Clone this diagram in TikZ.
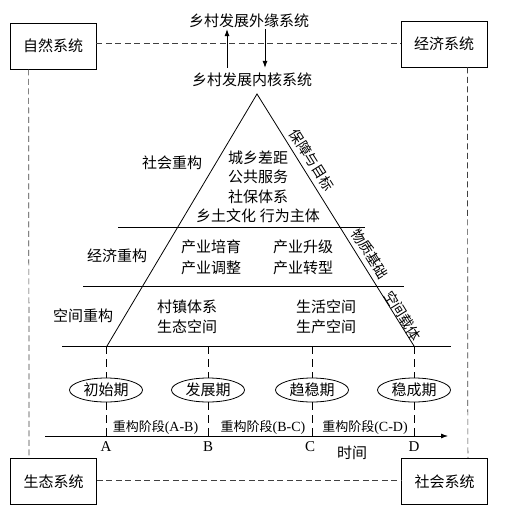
\documentclass[tikz,border=0pt]{standalone}
\usepackage{fontspec}
\setmainfont{Liberation Serif}
\newfontfamily\cjk{Noto Sans CJK SC}
\usetikzlibrary{arrows.meta,shapes.geometric,calc}
\tikzset{
 sysbox/.style={draw, line width=0.8pt, minimum width=86pt, minimum height=46pt, inner sep=0pt, font=\cjk\fontsize{15}{18}\selectfont},
 link/.style={draw=black!75, line width=0.7pt, dash pattern=on 6pt off 3.5pt},
 lbl/.style={font=\cjk\fontsize{15}{18}\selectfont, inner sep=1pt},
 multi/.style={font=\cjk\fontsize{15}{19.5}\selectfont, inner sep=1pt, align=center},
 multiw/.style={font=\cjk\fontsize{15}{21}\selectfont, inner sep=1pt, align=center},
 tline/.style={line width=0.8pt},
 ell/.style={draw, ellipse, line width=0.8pt, minimum width=73pt, minimum height=24pt, inner sep=0pt, font=\cjk\fontsize{15}{18}\selectfont},
 vd/.style={line width=0.7pt, dash pattern=on 8pt off 5pt},
 arr/.style={line width=0.8pt, -{Latex[length=7pt,width=5pt]}},
 letter/.style={font=\fontsize{15}{18}\selectfont, inner sep=0pt},
 stage/.style={font=\fontsize{14}{16}\selectfont, inner sep=0pt},
 side/.style={font=\cjk\fontsize{14}{16}\selectfont, inner sep=0pt, rotate=-58},
}
\newcommand{\stg}[1]{{\cjk\fontsize{13}{16}\selectfont 重构阶段}(#1)}
\begin{document}
\begin{tikzpicture}[x=1pt,y=-1pt]
\useasboundingbox (0,0) rectangle (504,513);
% system boxes
\node[sysbox] (nat) at (53,46) {自然系统};
\node[sysbox] (econ) at (444,44) {经济系统};
\node[sysbox] (ecol) at (53.5,481.5) {生态系统};
\node[sysbox] (soc) at (444.5,481.5) {社会系统};
\draw[link] (nat.east |- 0,43) -- (econ.west |- 0,43);
\draw[link] (ecol.east |- 0,480) -- (soc.west |- 0,480);
\draw[link] ([xshift=19pt]nat.south west) -- ([xshift=19pt]ecol.north west);
\draw[link] ([xshift=-20pt]econ.south east) -- ([xshift=-20pt]soc.north east);
% titles
\node[lbl] (outer) at (249,21) {乡村发展外缘系统};
\node[lbl] (inner) at (252,80) {乡村发展内核系统};
\coordinate (upx) at (227,0);
\coordinate (dnx) at (265,0);
\draw[arr, shorten <=4pt] (inner.north -| upx) -- (outer.south -| upx);
\draw[arr, shorten >=4pt] (outer.south -| dnx) -- (inner.north -| dnx);
% triangle
\coordinate (apex) at (257,94);
\coordinate (L) at (107,346);
\coordinate (R) at (414,346);
\draw[tline] (L) -- (apex) -- (R);
\draw[tline] (118,227) -- (365,227);
\draw[tline] (83,286) -- (404,286);
\draw[tline] (62,346) -- (451,346);
% side labels
\node[side] (s1) at (312,160) {保障与目标};
\node[side] (s2) at (370,254) {物质基础};
\node[side] (s3) at (403,316) {空间载体};
% layer texts
\node[lbl] (soc1) at (172,163) {社会重构};
\node[multi] (socin) at (258,187) {城乡差距\\公共服务\\社保体系\\乡土文化\hspace{4pt}行为主体};
\node[lbl] (eco1) at (117,256) {经济重构};
\node[multiw] (ecoa) at (211,257) {产业培育\\产业调整};
\node[multiw] (ecob) at (303,257) {产业升级\\产业转型};
\node[lbl] (spa1) at (83,316) {空间重构};
\node[multi] (spaa) at (187,317) {村镇体系\\生态空间};
\node[multi] (spab) at (326,317) {生活空间\\生产空间};
% stages
\foreach \n/\x/\t in {A/106/初始期, B/208/发展期, C/312/趋稳期, D/414/稳成期}{
  \coordinate (t\n) at (\x,346);
  \coordinate (a\n) at (\x,436);
  \node[ell] (e\n) at (\x,390) {\t};
  \draw[vd] (t\n) -- (e\n.north);
  \draw[vd] (e\n.south) -- (a\n);
}
\coordinate (axs) at (45,436);
\coordinate (axe) at (448,436);
\draw[arr] (axs) -- (axe);
\node[letter] (lA) at (106,447) {A};
\node[letter] (lB) at (208,447) {B};
\node[letter] (lC) at (310,447) {C};
\node[letter] (lD) at (414,447) {D};
\node[lbl] (time) at (352,453) {时间};
\node[stage] (st1) at (155.5,427) {\stg{A-B}};
\node[stage] (st2) at (263,427) {\stg{B-C}};
\node[stage] (st3) at (365,427) {\stg{C-D}};
\end{tikzpicture}
\end{document}
